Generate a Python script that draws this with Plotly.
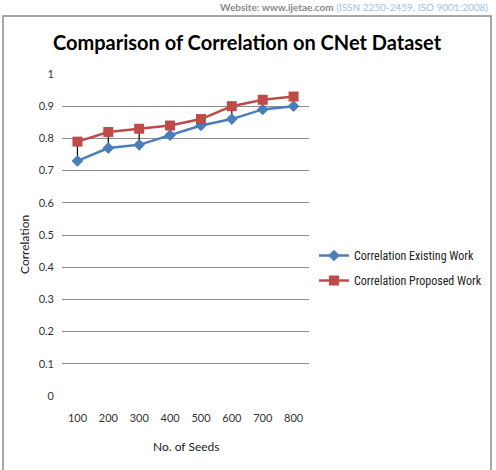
import plotly.graph_objects as go

seeds = ["100", "200", "300", "400", "500", "600", "700", "800"]
existing = [0.73, 0.77, 0.78, 0.81, 0.84, 0.86, 0.89, 0.90]
proposed = [0.79, 0.82, 0.83, 0.84, 0.86, 0.90, 0.92, 0.93]
y_ticks = [0, 0.1, 0.2, 0.3, 0.4, 0.5, 0.6, 0.7, 0.8, 0.9, 1]
y_tick_text = ["0", "0.1", "0.2", "0.3", "0.4", "0.5", "0.6", "0.7", "0.8", "0.9", "1"]

W, H = 496, 470
L, R, T, B = 62, 309, 74, 396

def px(x):
    return (x - L) / (R - L)

def py(y):
    return (B - y) / (B - T)

FONT = "Lato"
NARROW = "Liberation Sans Narrow, Roboto Condensed, Lato"

fig = go.Figure()

# high-low lines between the two series
hx, hy = [], []
for s, e, p in zip(seeds, existing, proposed):
    hx += [s, s, None]
    hy += [e, p, None]
fig.add_trace(go.Scatter(x=hx, y=hy, mode="lines", line=dict(color="black", width=1.2),
                         showlegend=False, hoverinfo="skip"))

fig.add_trace(go.Scatter(x=seeds, y=existing, mode="lines+markers", name="Correlation Existing Work",
                         line=dict(color="#4A7EBB", width=2.5),
                         marker=dict(symbol="diamond", size=9, color="#4A7EBB"),
                         legendgroup="a"))
fig.add_trace(go.Scatter(x=seeds, y=proposed, mode="lines+markers", name="Correlation Proposed Work",
                         line=dict(color="#BE4B48", width=2.5),
                         marker=dict(symbol="square", size=10, color="#BE4B48"),
                         legendgroup="b"))

fig.update_layout(
    width=W, height=H,
    margin=dict(l=L, r=W - R, t=T, b=H - B, autoexpand=False),
    paper_bgcolor="white", plot_bgcolor="white",
    font=dict(family=FONT, color="#222", size=11),
    showlegend=True,
    legend=dict(x=px(314), y=py(241), xanchor="left", yanchor="top",
                font=dict(family=NARROW, size=12, color="#222"),
                tracegroupgap=6, itemwidth=30, bgcolor="rgba(0,0,0,0)"),
    xaxis=dict(type="category", range=[-0.5, 7.5], showgrid=False, showline=False,
               ticks="", ticklabelstandoff=14, tickfont=dict(size=11, color="#333"),
               zeroline=False),
    yaxis=dict(range=[0, 1], tickvals=y_ticks, ticktext=y_tick_text,
               showgrid=True, gridcolor="#8c8c8c", gridwidth=1, zeroline=False,
               showline=False, ticks="", ticklabelstandoff=7,
               tickfont=dict(size=11, color="#333")),
    shapes=[dict(type="rect", xref="paper", yref="paper",
                 x0=px(3), x1=px(491), y0=py(480), y1=py(16),
                 line=dict(color="#8a8a8a", width=1.5), layer="below")],
    annotations=[
        dict(text="<b>Comparison of Correlation on CNet Dataset</b>", xref="paper", yref="paper",
             x=px(247), y=py(42), xanchor="center", yanchor="middle", showarrow=False,
             font=dict(family=FONT, size=20, color="black")),
        dict(text="No. of Seeds", xref="paper", yref="paper", x=px(186), y=py(447),
             xanchor="center", yanchor="middle", showarrow=False,
             font=dict(family=FONT, size=12, color="#222")),
        dict(text="Correlation", xref="paper", yref="paper", x=px(25), y=py(245),
             xanchor="center", yanchor="middle", showarrow=False, textangle=-90,
             font=dict(family=FONT, size=12, color="#222")),
        dict(text="<b>Website: www.ijetae.com</b> <span style='color:#9cc3e6'>(ISSN 2250-2459, ISO 9001:2008)</span>",
             xref="paper", yref="paper", x=px(490), y=py(7), xanchor="right", yanchor="middle",
             showarrow=False, font=dict(family=FONT, size=10, color="#888")),
    ],
)

fig.write_html("out.html")
